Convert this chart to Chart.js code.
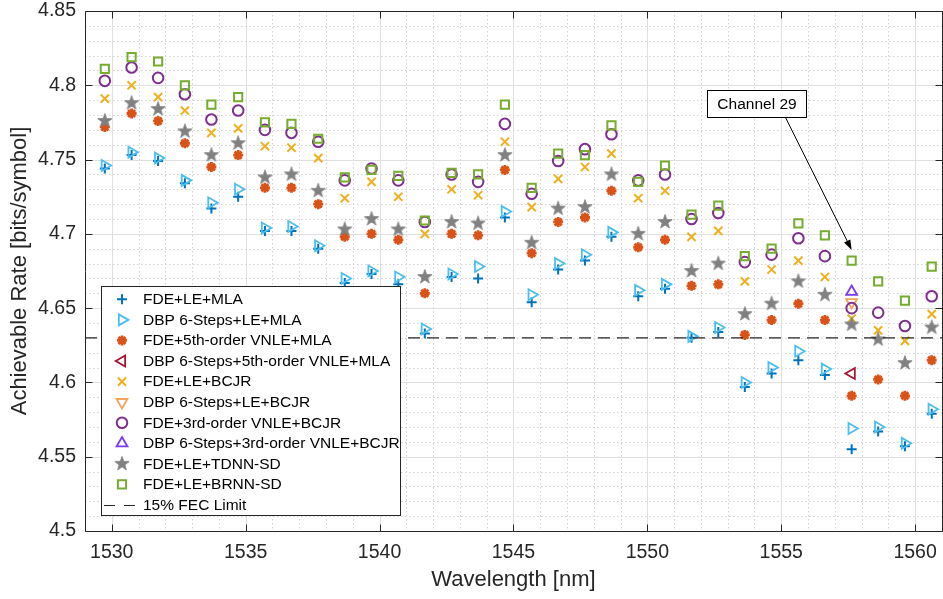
<!DOCTYPE html>
<html>
<head>
<meta charset="utf-8">
<title>Achievable rate per WDM channel</title>
<script src="https://cdn.jsdelivr.net/npm/chart.js@4.4.1/dist/chart.umd.min.js"></script>
<style>
  html, body { margin: 0; padding: 0; background: #ffffff; overflow: hidden; }
  #wrap { position: relative; width: 950px; height: 599px; }
</style>
</head>
<body>
<div id="wrap"><canvas id="chart" width="950" height="599"></canvas></div>
<script>
// Channel centre wavelengths [nm], channels 1..32
const wavelengths = [1529.74, 1530.74, 1531.73, 1532.73, 1533.72, 1534.72, 1535.72, 1536.71,
  1537.71, 1538.70, 1539.70, 1540.70, 1541.69, 1542.69, 1543.68, 1544.68,
  1545.68, 1546.67, 1547.67, 1548.66, 1549.66, 1550.66, 1551.65, 1552.65,
  1553.64, 1554.64, 1555.64, 1556.63, 1557.63, 1558.62, 1559.62, 1560.62];

// Achievable rate [bits/symbol] per channel
const fdeLeMla = [4.744, 4.753, 4.749, 4.734, 4.717, 4.725, 4.702, 4.702, 4.690, 4.667, 4.673, 4.666,
  4.633, 4.671, 4.670, 4.711, 4.654, 4.676, 4.682, 4.698, 4.658, 4.663, 4.630, 4.634,
  4.597, 4.606, 4.615, 4.605, 4.555, 4.567, 4.557, 4.579];
const dbpLeMla = [4.746, 4.755, 4.751, 4.736, 4.721, 4.730, 4.704, 4.705, 4.692, 4.670, 4.675, 4.671,
  4.636, 4.673, 4.678, 4.715, 4.659, 4.680, 4.686, 4.701, 4.662, 4.666, 4.631, 4.637,
  4.600, 4.610, 4.621, 4.609, 4.569, 4.570, 4.559, 4.582];
const fde5thVnleMla = [4.772, 4.781, 4.776, 4.761, 4.745, 4.753, 4.731, 4.731, 4.720, 4.698, 4.700, 4.696,
  4.660, 4.700, 4.699, 4.743, 4.687, 4.708, 4.711, 4.729, 4.691, 4.696, 4.665, 4.666,
  4.632, 4.642, 4.653, 4.642, 4.591, 4.602, 4.591, 4.615];
const fdeLeBcjr = [4.791, 4.800, 4.792, 4.783, 4.768, 4.771, 4.759, 4.758, 4.751, 4.724, 4.735, 4.725,
  4.700, 4.730, 4.726, 4.762, 4.718, 4.737, 4.745, 4.754, 4.724, 4.729, 4.698, 4.702,
  4.668, 4.676, 4.682, 4.671, 4.643, 4.635, 4.628, 4.646];
const fde3rdVnleBcjr = [4.803, 4.812, 4.805, 4.794, 4.777, 4.783, 4.770, 4.768, 4.762, 4.736, 4.744, 4.736,
  4.708, 4.740, 4.735, 4.774, 4.727, 4.749, 4.757, 4.767, 4.736, 4.740, 4.710, 4.714,
  4.681, 4.686, 4.697, 4.685, 4.650, 4.647, 4.638, 4.658];
const fdeLeTdnn = [4.776, 4.788, 4.784, 4.769, 4.753, 4.761, 4.738, 4.740, 4.729, 4.703, 4.710, 4.703,
  4.671, 4.708, 4.707, 4.753, 4.694, 4.717, 4.718, 4.740, 4.700, 4.708, 4.675, 4.680,
  4.646, 4.653, 4.668, 4.659, 4.639, 4.629, 4.613, 4.637];
const fdeLeBrnn = [4.811, 4.819, 4.816, 4.800, 4.787, 4.792, 4.775, 4.774, 4.764, 4.738, 4.743, 4.739,
  4.709, 4.741, 4.740, 4.787, 4.731, 4.754, 4.753, 4.773, 4.735, 4.746, 4.713, 4.719,
  4.685, 4.690, 4.707, 4.699, 4.682, 4.668, 4.655, 4.678];

// DBP results exist only for channel 29
const dbpChannelIndex = 28;
const dbp5thVnleMla = [4.606];
const dbpLeBcjr = [4.654];
const dbp3rdVnleBcjr = [4.661];

const fecLimit = 4.63;

const xTicks = [1530, 1535, 1540, 1545, 1550, 1555, 1560];
const yTicks = [4.5, 4.55, 4.6, 4.65, 4.7, 4.75, 4.8, 4.85];
const yTickLabels = ['4.5', '4.55', '4.6', '4.65', '4.7', '4.75', '4.8', '4.85'];
const xRange = [1529, 1561];
const yRange = [4.5, 4.85];

const FONT = '"Liberation Sans", Arial, Helvetica, sans-serif';
const AXIS = '#262626';

// filled five-pointed star used as a marker
function pentagram(R, color) {
  const size = Math.ceil(2 * R + 3);
  const c = document.createElement('canvas');
  c.width = size; c.height = size;
  const g = c.getContext('2d');
  const cx = size / 2, cy = size / 2, r = R * 0.4;
  g.beginPath();
  for (let k = 0; k < 10; k++) {
    const a = -Math.PI / 2 + k * Math.PI / 5;
    const rr = (k % 2) ? r : R;
    g.lineTo(cx + rr * Math.cos(a), cy + rr * Math.sin(a));
  }
  g.closePath();
  g.fillStyle = color;
  g.fill();
  g.strokeStyle = color;
  g.lineWidth = 0.8;
  g.stroke();
  return c;
}
const starImg = pentagram(7.5, '#808080');

function pts(values) {
  return values.map((v, i) => ({ x: wavelengths[i], y: v }));
}
function single(values) {
  return [{ x: wavelengths[dbpChannelIndex], y: values[0] }];
}

const markers = [
  { label: 'FDE+LE+MLA', data: pts(fdeLeMla), style: 'cross', rot: 0, r: 5, bw: 2, color: '#0072BD' },
  { label: 'DBP 6-Steps+LE+MLA', data: pts(dbpLeMla), style: 'triangle', rot: 90, r: 6.3, bw: 1.8, color: '#4DBEEE' },
  { label: 'FDE+5th-order VNLE+MLA', data: pts(fde5thVnleMla), style: 'star', rot: 0, r: 5, bw: 2.8, color: '#D95319' },
  { label: 'DBP 6-Steps+5th-order VNLE+MLA', data: single(dbp5thVnleMla), style: 'triangle', rot: 270, r: 6.3, bw: 1.8, color: '#A2142F' },
  { label: 'FDE+LE+BCJR', data: pts(fdeLeBcjr), style: 'crossRot', rot: 0, r: 5.8, bw: 2, color: '#EDB120' },
  { label: 'DBP 6-Steps+LE+BCJR', data: single(dbpLeBcjr), style: 'triangle', rot: 180, r: 6.3, bw: 1.8, color: '#F0A55A' },
  { label: 'FDE+3rd-order VNLE+BCJR', data: pts(fde3rdVnleBcjr), style: 'circle', rot: 0, r: 5.3, bw: 2, color: '#7E2F8E' },
  { label: 'DBP 6-Steps+3rd-order VNLE+BCJR', data: single(dbp3rdVnleBcjr), style: 'triangle', rot: 0, r: 6.3, bw: 1.8, color: '#7B3BEF' },
  { label: 'FDE+LE+TDNN-SD', data: pts(fdeLeTdnn), style: starImg, rot: 0, r: 7, bw: 0, color: '#808080' },
  { label: 'FDE+LE+BRNN-SD', data: pts(fdeLeBrnn), style: 'rect', rot: 0, r: 5.8, bw: 2, color: '#77AC30' }
];

const n = markers.length;
const datasets = markers.map((m, i) => ({
  type: 'scatter',
  label: m.label,
  data: m.data,
  order: n + 1 - i,
  pointStyle: m.style,
  pointRotation: m.rot,
  pointRadius: m.r,
  pointHoverRadius: m.r,
  pointBorderWidth: m.bw,
  pointBorderColor: m.color,
  pointBackgroundColor: 'rgba(0,0,0,0)',
  showLine: false
}));
datasets.push({
  type: 'line',
  label: '15% FEC Limit',
  data: [{ x: xRange[0], y: fecLimit }, { x: xRange[1], y: fecLimit }],
  order: 0,
  borderColor: AXIS,
  borderWidth: 1.2,
  borderDash: [12, 7],
  pointRadius: 0,
  fill: false
});

// dotted minor grid + solid major grid, drawn under the markers
const gridPlugin = {
  id: 'matlabGrid',
  beforeDatasetsDraw(chart) {
    const { ctx, chartArea: a, scales: { x, y } } = chart;
    const vline = (v) => { const p = Math.round(x.getPixelForValue(v)) + 0.5; ctx.beginPath(); ctx.moveTo(p, a.top); ctx.lineTo(p, a.bottom); ctx.stroke(); };
    const hline = (v) => { const p = Math.round(y.getPixelForValue(v)) + 0.5; ctx.beginPath(); ctx.moveTo(a.left, p); ctx.lineTo(a.right, p); ctx.stroke(); };
    ctx.save();
    ctx.lineWidth = 1;
    ctx.strokeStyle = '#d2d2d2';
    ctx.setLineDash([1.5, 2.5]);
    for (let w = xRange[0] + 1; w < xRange[1]; w++) if (w % 5 !== 0) vline(w);
    for (let k = 1; k < 35; k++) if (k % 5 !== 0) hline(yRange[0] + k * 0.01);
    ctx.setLineDash([]);
    ctx.strokeStyle = '#e0e0e0';
    xTicks.forEach(vline);
    yTicks.slice(1, -1).forEach(hline);
    ctx.restore();
  }
};

// axes box with inward ticks, callout and legend
const overlayPlugin = {
  id: 'overlay',
  afterDraw(chart) {
    const { ctx, chartArea: a, scales: { x, y } } = chart;
    const L = Math.round(a.left) + 0.5, R = Math.round(a.right) + 0.5;
    const T = Math.round(a.top) + 0.5, B = Math.round(a.bottom) + 0.5;
    ctx.save();
    ctx.strokeStyle = AXIS;
    ctx.lineWidth = 1;
    ctx.setLineDash([]);
    ctx.beginPath();
    ctx.rect(L, T, R - L, B - T);
    ctx.stroke();
    const tl = 7;
    ctx.beginPath();
    xTicks.forEach(v => {
      const p = Math.round(x.getPixelForValue(v)) + 0.5;
      ctx.moveTo(p, B); ctx.lineTo(p, B - tl);
      ctx.moveTo(p, T); ctx.lineTo(p, T + tl);
    });
    yTicks.forEach(v => {
      const p = Math.round(y.getPixelForValue(v)) + 0.5;
      ctx.moveTo(L, p); ctx.lineTo(L + tl, p);
      ctx.moveTo(R, p); ctx.lineTo(R - tl, p);
    });
    ctx.stroke();

    // "Channel 29" callout
    const bx0 = Math.round(x.getPixelForValue(1552.21)) + 0.5;
    const bx1 = Math.round(x.getPixelForValue(1555.94)) + 0.5;
    const by0 = Math.round(y.getPixelForValue(4.7968)) + 0.5;
    const by1 = Math.round(y.getPixelForValue(4.7787)) + 0.5;
    ctx.fillStyle = '#ffffff';
    ctx.fillRect(bx0, by0, bx1 - bx0, by1 - by0);
    ctx.strokeStyle = '#000000';
    ctx.strokeRect(bx0, by0, bx1 - bx0, by1 - by0);
    ctx.fillStyle = '#000000';
    ctx.font = '15.5px ' + FONT;
    ctx.textAlign = 'center';
    ctx.textBaseline = 'middle';
    ctx.fillText('Channel 29', (bx0 + bx1) / 2, (by0 + by1) / 2 + 0.5);
    const ax0 = x.getPixelForValue(1555.16), ay0 = by1;
    const ax1 = x.getPixelForValue(wavelengths[dbpChannelIndex]), ay1 = y.getPixelForValue(4.6892);
    const ang = Math.atan2(ay1 - ay0, ax1 - ax0);
    const hl = 10, hw = 3.5;
    const bxp = ax1 - hl * Math.cos(ang), byp = ay1 - hl * Math.sin(ang);
    ctx.beginPath();
    ctx.moveTo(ax0, ay0); ctx.lineTo(bxp, byp);
    ctx.stroke();
    ctx.beginPath();
    ctx.moveTo(ax1, ay1);
    ctx.lineTo(bxp + hw * Math.sin(ang), byp - hw * Math.cos(ang));
    ctx.lineTo(bxp - hw * Math.sin(ang), byp + hw * Math.cos(ang));
    ctx.closePath();
    ctx.fill();

    // legend
    const lg = { left: 101.5, top: 286.5, right: 400.5, bottom: 515.5, first: 299.3, row: 20.57, mx: 122, tx: 143 };
    ctx.fillStyle = '#ffffff';
    ctx.fillRect(lg.left, lg.top, lg.right - lg.left, lg.bottom - lg.top);
    ctx.strokeStyle = AXIS;
    ctx.strokeRect(lg.left, lg.top, lg.right - lg.left, lg.bottom - lg.top);
    ctx.font = '15.5px ' + FONT;
    ctx.textAlign = 'left';
    ctx.textBaseline = 'middle';
    markers.forEach((m, i) => {
      const cy = lg.first + i * lg.row;
      ctx.save();
      ctx.strokeStyle = m.color;
      ctx.fillStyle = 'rgba(0,0,0,0)';
      ctx.lineWidth = m.bw;
      Chart.helpers.drawPoint(ctx, { pointStyle: m.style, rotation: m.rot, radius: m.r, borderWidth: m.bw }, lg.mx, cy);
      ctx.restore();
      ctx.fillStyle = '#000000';
      ctx.fillText(m.label, lg.tx, cy + 0.5);
    });
    const fy = Math.round(lg.first + markers.length * lg.row) + 0.5;
    ctx.strokeStyle = AXIS;
    ctx.lineWidth = 1.2;
    ctx.setLineDash([11, 9]);
    ctx.beginPath();
    ctx.moveTo(104, fy); ctx.lineTo(136, fy);
    ctx.stroke();
    ctx.setLineDash([]);
    ctx.fillStyle = '#000000';
    ctx.fillText('15% FEC Limit', lg.tx, fy + 0.5);
    ctx.restore();
  }
};

new Chart(document.getElementById('chart').getContext('2d'), {
  data: { datasets },
  options: {
    responsive: false,
    animation: false,
    events: [],
    layout: { padding: { left: 0, top: 11, right: 6, bottom: 0 } },
    plugins: { legend: { display: false }, tooltip: { enabled: false } },
    scales: {
      x: {
        type: 'linear',
        min: xRange[0],
        max: xRange[1],
        afterBuildTicks: s => { s.ticks = xTicks.map(v => ({ value: v })); },
        afterFit: s => { s.height = 68; },
        grid: { display: false, drawTicks: false },
        border: { display: false },
        ticks: {
          color: AXIS, padding: 12, maxRotation: 0, autoSkip: false,
          font: { family: FONT, size: 19.5, lineHeight: 1 },
          callback: v => String(v)
        },
        title: {
          display: true, text: 'Wavelength [nm]', color: AXIS,
          font: { family: FONT, size: 22 }, padding: { top: 0, bottom: 6 }
        }
      },
      y: {
        type: 'linear',
        min: yRange[0],
        max: yRange[1],
        afterBuildTicks: s => { s.ticks = yTicks.map(v => ({ value: v })); },
        afterFit: s => { s.width = 85; s.paddingTop = 0; s.paddingBottom = 0; },
        grid: { display: false, drawTicks: false },
        border: { display: false },
        ticks: {
          color: AXIS, padding: 9, autoSkip: false,
          font: { family: FONT, size: 19.5, lineHeight: 0.1 },
          callback: (v, i) => yTickLabels[i]
        },
        title: {
          display: true, text: 'Achievable Rate [bits/symbol]', color: AXIS,
          font: { family: FONT, size: 22 }, padding: { top: 7, bottom: 0 }
        }
      }
    }
  },
  plugins: [gridPlugin, overlayPlugin]
});
</script>
</body>
</html>
